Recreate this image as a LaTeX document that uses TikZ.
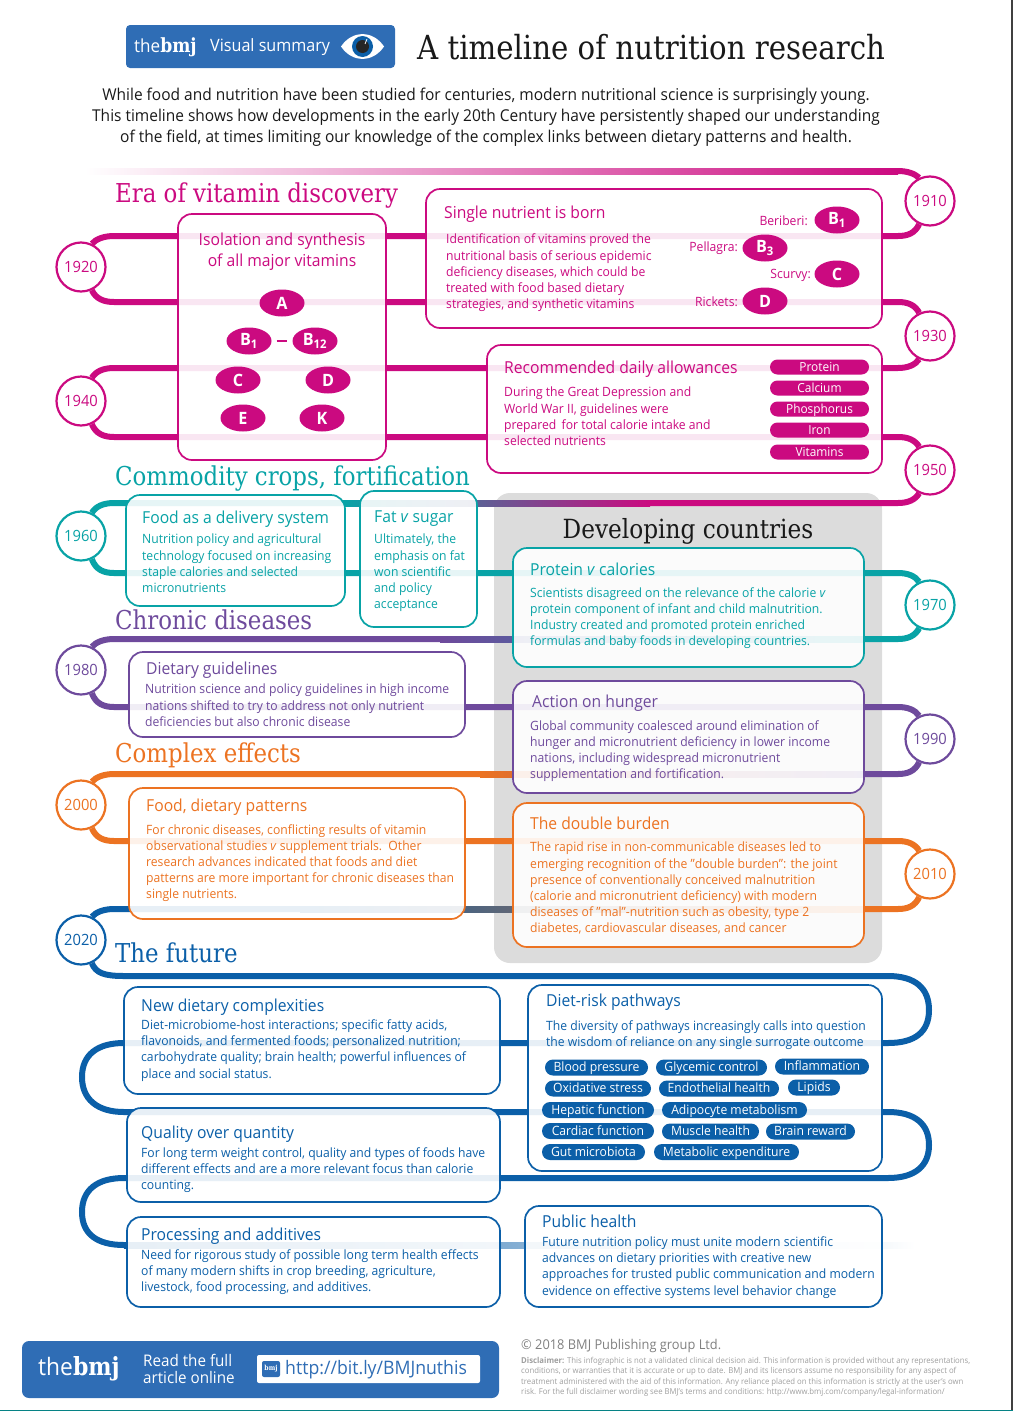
\documentclass[tikz,border=0pt]{standalone}
\usepackage{fontspec}
\setmainfont[FakeStretch=.95]{Open Sans}
\newfontfamily\headfont[FakeStretch=.88]{DejaVu Serif}
\usetikzlibrary{shapes.geometric}
\definecolor{bandm}{HTML}{CB0A80}
\definecolor{bandt}{HTML}{08A3A6}
\definecolor{bandp}{HTML}{6E4A9C}
\definecolor{bando}{HTML}{EC7322}
\definecolor{bandb}{HTML}{0B5FA8}
\definecolor{bmjblue}{HTML}{2F6DB5}
\definecolor{panelgrey}{HTML}{DCDCDC}
\def\fs#1#2{\fontsize{#1}{#2}\selectfont}
\def\fadeband(#1,#2,#3)(#4,#5){\shade[left color=#4, right color=#5] (#1,#3-3) rectangle (#2,#3+3);}
\tikzset{
	x=1pt, y=-1pt,
	band/.style={line width=6pt},
	yearnode/.style={circle, draw=#1, line width=2.2pt, fill=white, minimum size=49pt, inner sep=0pt, text=#1, font=\fs{15.5}{18}},
	tbox/.style={draw=#1, line width=1.7pt, rounded corners=14pt, fill=white, fill opacity=.9},
	erahead/.style={anchor=west, inner sep=0pt, yshift=-3pt, text height=19.5pt, text depth=6pt, text=#1, font=\headfont\fs{26}{28}},
	boxhead/.style={anchor=west, inner sep=0pt, yshift=-1.5pt, text height=12.5pt, text depth=3.5pt, text=#1, font=\fs{16.5}{18}},
	boxtext/.style={anchor=north west, inner sep=0pt, yshift=-2pt, align=left, text=#1, font=\fs{12.8}{16.2}},
	vitnode/.style={ellipse, fill=bandm, minimum width=45pt, minimum height=27pt, inner sep=0pt, text=white, font=\bfseries\fs{17}{18}},
	vitlabel/.style={anchor=east, inner sep=0pt, text=bandm, font=\fs{12.8}{15}},
	pillm/.style={rounded corners=7.5pt, fill=bandm, minimum width=99pt, minimum height=15pt, inner sep=0pt, text height=9pt, text depth=1pt, text=white, font=\fs{12.5}{14}},
	pillb/.style={rounded corners=8pt, fill=bandb, minimum width=#1, minimum height=16pt, inner sep=0pt, text height=9.5pt, text depth=1pt, text=white, font=\fs{12.8}{14}},
}

\begin{document}
\begin{tikzpicture}
		%%%%% START %%%%%
		\useasboundingbox (0,0) rectangle (1013,1411);
		
		% header
		\fill[bmjblue, rounded corners=4pt] (126,25) rectangle (395,68);
		\node[anchor=west, inner sep=0pt, text=white] (headbmj) at (134,47.5) {\fs{18}{20}the\headfont\bfseries\fs{19.5}{20}bmj};
		\node[anchor=west, inner sep=0pt, text=white, font=\fs{17}{20}] (headvisual) at (210,47) {Visual summary};
		\fill[white] (341,46.5) .. controls (352,30) and (373,30) .. (384,46.5) .. controls (373,63) and (352,63) .. (341,46.5) -- cycle;
		\fill[bandb] (362.5,46.5) circle (10.5);
		\fill[black!85] (362.5,46.5) circle (6.5);
		\draw[white, line width=0.8pt] (365,44) -- (367,39);
		\node[anchor=west, inner sep=0pt, text=black!90, font=\headfont\fs{33.2}{36}] (title) at (417,47) {A timeline of nutrition research};
		\node[inner sep=0pt, align=center, text=black!90, font=\fs{16.3}{21}] (intro) at (486,117.5) {While food and nutrition have been studied for centuries, modern nutritional science is surprisingly young.\\This timeline shows how developments in the early 20th Century have persistently shaped our understanding\\of the field, at times limiting our knowledge of the complex links between dietary patterns and health.};
		
		% years
		\node[yearnode=bandm] (y1910) at (930,201) {1910};
		\node[yearnode=bandm] (y1920) at (81,267) {1920};
		\node[yearnode=bandm] (y1930) at (930,336) {1930};
		\node[yearnode=bandm] (y1940) at (81,401) {1940};
		\node[yearnode=bandm] (y1950) at (930,470) {1950};
		\node[yearnode=bandt] (y1960) at (81,536) {1960};
		\node[yearnode=bandt] (y1970) at (930,605) {1970};
		\node[yearnode=bandp] (y1980) at (81,670) {1980};
		\node[yearnode=bandp] (y1990) at (930,739) {1990};
		\node[yearnode=bando] (y2000) at (81,805) {2000};
		\node[yearnode=bando] (y2010) at (930,874) {2010};
		\node[yearnode=bandb] (y2020) at (81,940) {2020};
		
		\fill[panelgrey, rounded corners=16pt] (494,493) rectangle (882,963);
		
		% timeline
		\fadeband(85,898,171)(white,bandm)
		\draw[band, bandm] (898,171) .. controls (908,171) and (915,174) .. (y1910.115);
		\draw[band, bandm] (y1910.245) .. controls (915,233) and (908,236) .. (898,236) -- (114,236) .. controls (104,236) and (96,239) .. (y1920.65);
		\draw[band, bandm] (y1920.295) .. controls (96,299) and (104,302) .. (114,302) -- (898,302) .. controls (908,302) and (915,305) .. (y1930.115);
		\draw[band, bandm] (y1930.245) .. controls (915,365) and (908,368) .. (898,368) -- (114,368) .. controls (104,368) and (96,371) .. (y1940.65);
		\draw[band, bandm] (y1940.295) .. controls (96,434) and (104,437) .. (114,437) -- (898,437) .. controls (908,437) and (915,440) .. (y1950.115);
		\draw[band, bandm] (y1950.245) .. controls (915,500) and (908,503) .. (898,503) -- (650,503);
		\fadeband(345,650,503)(bandt,bandm)
		\draw[band, bandt] (345,503) -- (114,503) .. controls (104,503) and (96,506) .. (y1960.65);
		\draw[band, bandt] (y1960.295) .. controls (96,570) and (104,573) .. (114,573) -- (898,573) .. controls (908,573) and (915,576) .. (y1970.115);
		\draw[band, bandt] (y1970.245) .. controls (915,636) and (908,639) .. (898,639) -- (864,639);
		\fadeband(440,864,639)(bandp,bandt)
		\draw[band, bandp] (440,639) -- (114,639) .. controls (104,639) and (96,642) .. (y1980.65);
		\draw[band, bandp] (y1980.295) .. controls (96,704) and (104,707) .. (114,707) -- (898,707) .. controls (908,707) and (915,710) .. (y1990.115);
		\draw[band, bandp] (y1990.245) .. controls (915,771) and (908,774) .. (898,774) -- (864,774);
		\fadeband(480,864,774)(bando,bandp)
		\draw[band, bando] (480,774) -- (114,774) .. controls (104,774) and (96,777) .. (y2000.65);
		\draw[band, bando] (y2000.295) .. controls (96,838) and (104,841) .. (114,841) -- (898,841) .. controls (908,841) and (915,844) .. (y2010.115);
		\draw[band, bando] (y2010.245) .. controls (915,906) and (908,909) .. (898,909) -- (864,909);
		\shade[left color=bandb, middle color=bandp!55!white, right color=bando] (300,906) rectangle (864,912);
		\draw[band, bandb] (300,909) -- (114,909) .. controls (104,909) and (96,912) .. (y2020.65);
		\draw[band, bandb] (y2020.295) .. controls (96,973) and (104,976) .. (124,976) -- (888,976) .. controls (915,976) and (929,988) .. (929,1010) .. controls (929,1032) and (915,1043) .. (888,1043) -- (124,1043) .. controls (97,1043) and (82,1055) .. (82,1077) .. controls (82,1099) and (97,1112) .. (124,1112) -- (888,1112) .. controls (915,1112) and (929,1124) .. (929,1145) .. controls (929,1166) and (915,1178) .. (888,1178) -- (124,1178) .. controls (97,1178) and (82,1190) .. (82,1212) .. controls (82,1234) and (97,1245) .. (124,1245);
		\shade[left color=bandb, middle color=bandb!25!white, right color=white] (124,1242) rectangle (915,1248);
		
		% era of vitamin discovery
		\node[erahead=bandm] (eravit) at (115,193) {Era of vitamin discovery};
		\draw[tbox=bandm] (178,214) rectangle (386,460);
		\node[inner sep=0pt, yshift=-1.5pt, align=center, text=bandm, font=\fs{16.5}{21}] (isotext) at (282,250) {Isolation and synthesis\\of all major vitamins};
		\node[vitnode] (va) at (282,303) {A};
		\node[vitnode] (vb1) at (249,341) {B\textsubscript{1}};
		\node[vitnode] (vb12) at (315,341) {B\textsubscript{12}};
		\draw[line width=1.2pt, bandm, shorten >=5pt, shorten <=5pt] (vb1) -- (vb12);
		\node[vitnode] (vc) at (238,380) {C};
		\node[vitnode] (vd) at (328,380) {D};
		\node[vitnode] (ve) at (243,418) {E};
		\node[vitnode] (vk) at (322,418) {K};
		
		\draw[tbox=bandm] (426,189) rectangle (882,328);
		\node[boxhead=bandm] (singlehead) at (444,212) {Single nutrient is born};
		\node[boxtext=bandm] (singletext) at (446,232) {Identification of vitamins proved the\\nutritional basis of serious epidemic\\deficiency diseases, which could be\\treated with food based dietary\\strategies, and synthetic vitamins};
		\node[vitnode] (sb1) at (837,220) {B\textsubscript{1}};
		\node[vitnode] (sb3) at (765,248) {B\textsubscript{3}};
		\node[vitnode] (sc) at (837,274) {C};
		\node[vitnode] (sd) at (765,301) {D};
		\node[vitlabel] (lberi) at (808,221) {Beriberi:};
		\node[vitlabel] (lpell) at (738,248) {Pellagra:};
		\node[vitlabel] (lscur) at (811,275) {Scurvy:};
		\node[vitlabel] (lrick) at (738,302) {Rickets:};
		
		\draw[tbox=bandm] (487,345) rectangle (882,473);
		\node[boxhead=bandm] (rdahead) at (504,367) {Recommended daily allowances};
		\node[boxtext=bandm] (rdatext) at (504,385) {During the Great Depression and\\World War II, guidelines were\\prepared\, for total calorie intake and\\selected nutrients};
		\node[pillm] (pprotein) at (819.5,367) {Protein};
		\node[pillm] (pcalcium) at (819.5,388) {Calcium};
		\node[pillm] (pphos) at (819.5,409) {Phosphorus};
		\node[pillm] (piron) at (819.5,430) {Iron};
		\node[pillm] (pvit) at (819.5,452) {Vitamins};
		
		% commodity crops
		\node[erahead=bandt] (eracrop) at (115,476) {Commodity crops, fortification};
		\draw[tbox=bandt] (126,495) rectangle (345,606);
		\node[boxhead=bandt] (foodhead) at (142,517) {Food as a delivery system};
		\node[boxtext=bandt] (foodtext) at (142,532) {Nutrition policy and agricultural\\technology focused on increasing\\staple calories and selected\\micronutrients};
		\draw[tbox=bandt] (360,491) rectangle (477,627);
		\node[boxhead=bandt] (fathead) at (374,516) {Fat \textit{v} sugar};
		\node[boxtext=bandt] (fattext) at (374,532) {Ultimately, the\\emphasis on fat\\won scientific\\and policy\\acceptance};
		
		% developing countries
		\node[inner sep=0pt, yshift=-3pt, text=black!90, font=\headfont\fs{26.4}{28}] (devhead) at (688,528) {Developing countries};
		\draw[tbox=bandt] (513,548) rectangle (864,667);
		\node[boxhead=bandt] (prothead) at (530,569) {Protein \textit{v} calories};
		\node[boxtext=bandt] (prottext) at (530,585) {Scientists disagreed on the relevance of the calorie \textit{v}\\protein component of infant and child malnutrition.\\Industry created and promoted protein enriched\\formulas and baby foods in developing countries.};
		\draw[tbox=bandp] (513,681) rectangle (864,793);
		\node[boxhead=bandp] (hungerhead) at (532,701) {Action on hunger};
		\node[boxtext=bandp] (hungertext) at (530,718) {Global community coalesced around elimination of\\hunger and micronutrient deficiency in lower income\\nations, including widespread micronutrient\\supplementation and fortification.};
		\draw[tbox=bando] (513,803) rectangle (864,947);
		\node[boxhead=bando] (doublehead) at (530,823) {The double burden};
		\node[boxtext=bando] (doubletext) at (530,840) {The rapid rise in non-communicable diseases led to\\emerging recognition of the "double burden": the joint\\presence of conventionally conceived malnutrition\\(calorie and micronutrient deficiency) with modern\\diseases of "mal"-nutrition such as obesity, type 2\\diabetes, cardiovascular diseases, and cancer};
		
		% chronic diseases
		\node[erahead=bandp] (erachron) at (115,620) {Chronic diseases};
		\draw[tbox=bandp] (129,652) rectangle (465,737);
		\node[boxhead=bandp] (diethead) at (146,668) {Dietary guidelines};
		\node[boxtext=bandp] (diettext) at (145,682) {Nutrition science and policy guidelines in high income\\nations shifted to try to address not only nutrient\\deficiencies but also chronic disease};
		
		% complex effects
		\node[erahead=bando] (eracomp) at (115,753) {Complex effects};
		\draw[tbox=bando] (129,788) rectangle (465,919);
		\node[boxhead=bando] (pattnhead) at (146,805) {Food, dietary patterns};
		\node[boxtext=bando] (pattntext) at (146,822) {For chronic diseases, conflicting results of vitamin\\observational studies \textit{v} supplement trials.\, Other\\research advances indicated that foods and diet\\patterns are more important for chronic diseases than\\single nutrients.};
		
		% the future
		\node[erahead=bandb] (erafut) at (115,953) {The future};
		\draw[tbox=bandb] (124,987) rectangle (500,1094);
		\node[boxhead=bandb] (newhead) at (141,1005) {New dietary complexities};
		\node[boxtext=bandb] (newtext) at (141,1017.5) {Diet-microbiome-host interactions; specific fatty acids,\\flavonoids, and fermented foods; personalized nutrition;\\carbohydrate quality; brain health; powerful influences of\\place and social status.};
		\draw[tbox=bandb] (127,1108) rectangle (500,1202);
		\node[boxhead=bandb] (qualhead) at (141,1132) {Quality over quantity};
		\node[boxtext=bandb] (qualtext) at (141,1145.5) {For long term weight control, quality and types of foods have\\different effects and are a more relevant focus than calorie\\counting.};
		\draw[tbox=bandb] (127,1217) rectangle (500,1307);
		\node[boxhead=bandb] (prochead) at (141,1234) {Processing and additives};
		\node[boxtext=bandb] (proctext) at (141,1247.5) {Need for rigorous study of possible long term health effects\\of many modern shifts in crop breeding, agriculture,\\livestock, food processing, and additives.};
		
		\draw[tbox=bandb] (528,985) rectangle (882,1171);
		\node[boxhead=bandb] (riskhead) at (546,1000) {Diet-risk pathways};
		\node[boxtext=bandb] (risktext) at (546,1018.5) {The diversity of pathways increasingly calls into question\\the wisdom of reliance on any single surrogate outcome};
		\node[pillb=103pt] (bpress) at (596.5,1067.5) {Blood pressure};
		\node[pillb=111pt] (bglyc) at (711.5,1067.5) {Glycemic control};
		\node[pillb=94pt] (binfl) at (822,1066.5) {Inflammation};
		\node[pillb=106pt] (boxid) at (598,1088.5) {Oxidative stress};
		\node[pillb=120pt] (bendo) at (719,1088.5) {Endothelial health};
		\node[pillb=52pt] (blip) at (814,1087.5) {Lipids};
		\node[pillb=112pt] (bhep) at (598,1110) {Hepatic function};
		\node[pillb=145pt] (badip) at (734.5,1110) {Adipocyte metabolism};
		\node[pillb=112pt] (bcard) at (598,1131) {Cardiac function};
		\node[pillb=97pt] (bmusc) at (710.5,1131.5) {Muscle health};
		\node[pillb=89pt] (bbrain) at (810.5,1131.5) {Brain reward};
		\node[pillb=103pt] (bgut) at (593.5,1152) {Gut microbiota};
		\node[pillb=145pt] (bmeta) at (726.5,1152) {Metabolic expenditure};
		
		\draw[tbox=bandb] (525,1206) rectangle (882,1307);
		\node[boxhead=bandb] (pubhead) at (542,1221) {Public health};
		\node[boxtext=bandb] (pubtext) at (542,1234.5) {Future nutrition policy must unite modern scientific\\advances on dietary priorities with creative new\\approaches for trusted public communication and modern\\evidence on effective systems level behavior change};
		
		% footer
		\fill[bmjblue, rounded corners=7pt] (22,1341) rectangle (499,1398);
		\node[anchor=west, inner sep=0pt, text=white] (footbmj) at (38,1369) {\fs{24}{27}the\headfont\bfseries\fs{25}{27}bmj};
		\node[anchor=west, inner sep=0pt, align=left, text=white, font=\fs{16}{17.5}] (footread) at (143,1369) {Read the full\\article online};
		\fill[white, rounded corners=2pt] (257,1355) rectangle (480,1383);
		\fill[bmjblue, rounded corners=2pt] (262,1361) rectangle (280,1377);
		\node[inner sep=0pt, text=white, font=\headfont\bfseries\fs{7}{8}] (urlicon) at (271,1369) {bmj};
		\node[anchor=west, inner sep=0pt, text=bmjblue, font=\fs{18.6}{21}] (urltext) at (285,1370) {http://bit.ly/BMJnuthis};
		\node[anchor=west, inner sep=0pt, text=black!50, font=\fs{13.5}{15}] (copyright) at (521,1345.5) {© 2018 BMJ Publishing group Ltd.};
		\node[anchor=north west, inner sep=0pt, align=left, text=black!38, font=\fs{8.15}{10.4}] (disclaimer) at (521,1357) {\textbf{Disclaimer:} This infographic is not a validated clinical decision aid. This information is provided without any representations,\\conditions, or warranties that it is accurate or up to date. BMJ and its licensors assume no responsibility for any aspect of\\treatment administered with the aid of this information. Any reliance placed on this information is strictly at the user's own\\risk. For the full disclaimer wording see BMJ's terms and conditions: http://www.bmj.com/company/legal-information/};
		\draw[line width=1pt, bandt!80!black] (0,1410.5) -- (1013,1410.5);
		\draw[line width=1.5pt, black!75] (1012.2,0) -- (1012.2,1410);
		
		%%%%% END %%%%%
	\end{tikzpicture}
\end{document}
